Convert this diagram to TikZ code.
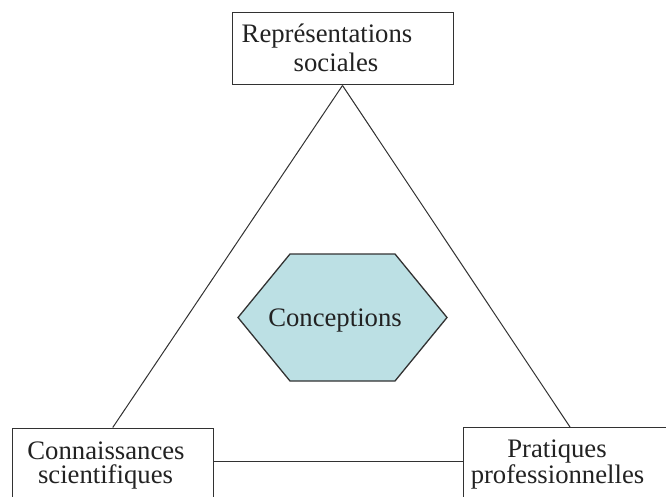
\documentclass[tikz,border=0pt]{standalone}
\usepackage{fontspec}
\setmainfont{Liberation Serif}
\definecolor{hexfill}{RGB}{188,224,228}
\definecolor{ink}{RGB}{34,34,34}
\definecolor{edge}{RGB}{50,50,50}
\begin{document}
\begin{tikzpicture}[x=1pt,y=-1pt,
  box/.style={draw=edge,line width=1pt,rectangle,inner sep=0pt,fill=white},
  lbl/.style={anchor=base,inner sep=0pt,text=ink,font=\fontsize{26.7}{30}\selectfont},
  conn/.style={draw=edge,line width=1pt},
  hexa/.style={draw=edge,line width=1.3pt,fill=hexfill}]
\useasboundingbox (0,0) rectangle (666,497);
\clip (0,0) rectangle (666,497);
% boxes
\node[box,minimum width=221pt,minimum height=72.3pt] (rs) at (342.5,48.85) {};
\node[box,minimum width=200.5pt,minimum height=90pt] (cs) at (112.75,473) {};
\node[box,minimum width=214pt,minimum height=90pt] (pp) at (570,472.5) {};
% triangle
\draw[conn] (rs.south) -- (cs.north);
\draw[conn] (rs.south) -- (pp.north);
\draw[conn] ([yshift=-34pt]cs.north east) -- ([yshift=-34.5pt]pp.north west);
% hexagon
\draw[hexa] (290,254) -- (395,254) -- (447,317.5) -- (395,381) -- (290,381) -- (238,317.5) -- cycle;
\node[lbl] (con) at (335,326) {Conceptions};
% labels
\node[lbl] (rs1) at (327,43) {Représentations};
\node[lbl] (rs2) at (336,72) {sociales};
\node[lbl] (cs1) at (106,459.5) {Connaissances};
\node[lbl] (cs2) at (105.5,483) {scientifiques};
\node[lbl] (pp1) at (557,457.5) {Pratiques};
\node[lbl] (pp2) at (557.5,483) {professionnelles};
\end{tikzpicture}
\end{document}
